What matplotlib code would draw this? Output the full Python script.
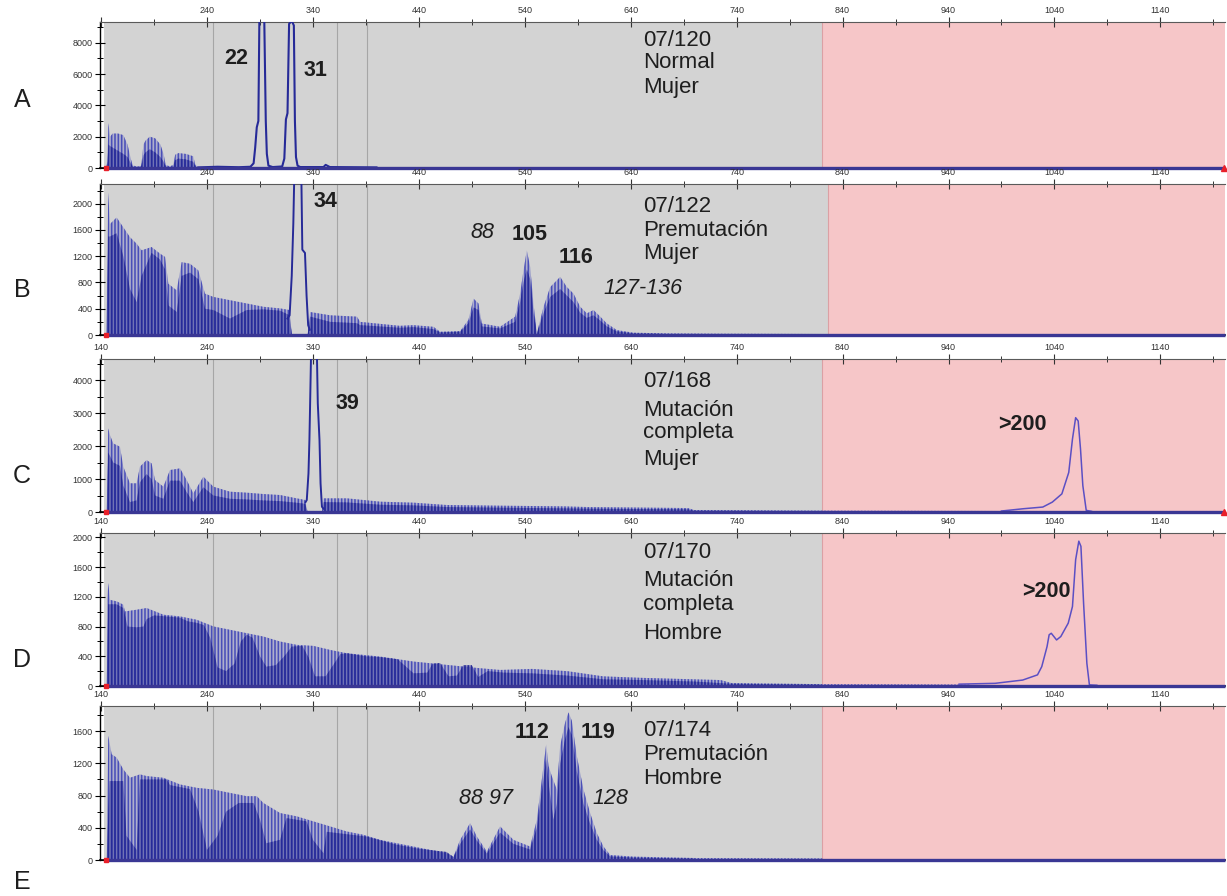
import matplotlib
matplotlib.use('Agg')
import matplotlib.pyplot as plt
from matplotlib.ticker import MultipleLocator

plt.rcParams['font.family'] = ['Liberation Sans', 'DejaVu Sans']
plt.rcParams['hatch.linewidth'] = 1.15

# ---------------- data (size in bp, signal in RFU) ----------------
x_major = [140, 240, 340, 440, 540, 640, 740, 840, 940, 1040, 1140]
x_minor = [190, 290, 390, 490, 590, 690, 790, 890, 990, 1090, 1190]
grid_lines = [246, 363, 391]

# Panel A - 07/120 Normal Mujer
A_x = [144, 146, 147, 148.5, 151, 156, 161, 165, 168, 170, 175, 178, 180, 182, 186, 191, 196, 199, 201, 205, 208, 210, 213, 220, 227, 229, 232]
A_hi = [0, 400, 2870, 2000, 2200, 2200, 2100, 1500, 600, 150, 100, 150, 1500, 1750, 2000, 1900, 1500, 900, 200, 100, 200, 850, 950, 900, 750, 200, 50]
A_lo = [0, 300, 1500, 1400, 1300, 1100, 900, 700, 300, 80, 50, 100, 800, 1000, 1200, 1000, 700, 400, 100, 50, 100, 500, 600, 550, 400, 100, 30]
A_pk_x = [232, 250, 270, 281, 284, 285.5, 287, 288.5, 289.5, 294, 295.5, 296.5, 298, 302, 311, 313, 314.5, 316, 317.5, 320, 322, 323, 324, 325.5, 328, 350, 352, 356, 400]
A_pk_y = [40, 80, 50, 80, 300, 1300, 2600, 3000, 9800, 9800, 3000, 900, 150, 60, 100, 600, 3100, 3500, 9200, 9400, 9100, 3000, 700, 150, 60, 60, 200, 60, 40]

# Panel B - 07/122 Premutacion Mujer
B_x = [145, 146.8, 148.4, 154.7, 161, 167.3, 173.6, 178.3, 187.7, 195.6, 200.4, 203.5, 211.4, 216.1, 224, 231.8, 238.1, 246, 261.7, 277.5, 293.2, 309, 318, 320, 335, 337.4, 356.3, 381.5, 384.6, 422, 435, 453.8, 460, 479, 486.8, 491.6, 496.3, 499.4, 516.7, 530.9, 535.6, 538.8, 541.9, 545.1, 548.2, 551.4, 557.7, 564, 573.4, 579.7, 586, 592.3, 598.6, 604.9, 611.2, 617.5, 626.9, 642.7, 674.2, 720, 826]
B_hi = [0, 2170, 1690, 1790, 1640, 1490, 1390, 1290, 1340, 1240, 1190, 780, 680, 1110, 1085, 985, 630, 580, 530, 480, 430, 405, 380, 0, 0, 350, 300, 280, 200, 140, 150, 125, 50, 60, 230, 555, 480, 175, 125, 280, 630, 985, 1290, 1035, 480, 25, 430, 730, 885, 730, 630, 430, 330, 380, 280, 175, 75, 35, 25, 20, 15]
B_lo = [0, 1500, 1500, 1550, 1200, 700, 500, 900, 1250, 1150, 1000, 450, 350, 900, 950, 850, 400, 380, 250, 380, 390, 370, 300, 0, 0, 280, 200, 180, 150, 110, 120, 90, 40, 50, 180, 420, 380, 130, 100, 200, 500, 800, 1000, 850, 350, 20, 330, 580, 700, 600, 500, 340, 260, 300, 220, 130, 55, 25, 15, 10, 10]
B_pk_x = [316, 318, 320, 321.5, 322.5, 329, 330, 332.5, 334, 335.5, 337]
B_pk_y = [250, 300, 900, 1700, 2500, 2500, 1300, 1250, 600, 150, 80]

# Panel C - 07/168 Mutacion completa Mujer
C_x = [145.3, 146.8, 148.4, 151.5, 157.8, 161, 167.3, 173.6, 176.7, 183, 187.7, 190.9, 198.8, 205.1, 214.5, 220.8, 227.1, 236.6, 246, 261.7, 277.5, 293.2, 309, 324.7, 332.6, 335, 348.5, 350, 372.1, 403.6, 435, 466.5, 516.8, 578, 600, 694, 700, 830, 1000]
C_hi = [0, 2535, 2333, 2080, 1980, 1374, 870, 870, 1374, 1575, 1475, 970, 768, 1273, 1323, 970, 566, 1070, 768, 616, 586, 545, 515, 414, 364, 0, 0, 414, 414, 313, 283, 212, 192, 170, 150, 120, 60, 40, 30]
C_lo = [0, 1800, 1700, 1500, 1400, 800, 300, 350, 900, 1150, 1000, 500, 400, 950, 950, 600, 300, 750, 500, 400, 380, 350, 330, 280, 250, 0, 0, 300, 290, 220, 200, 150, 130, 110, 100, 80, 40, 25, 20]
C_pk_x = [333, 334.2, 335.8, 336.7, 337.3, 338.3, 343.7, 344.6, 346.2, 347.2, 348.5, 350]
C_pk_y = [300, 364, 1170, 2200, 3190, 4900, 4900, 3290, 2180, 870, 160, 100]
C_big_x = [990, 1011, 1029, 1038, 1047, 1053.5, 1057, 1060, 1062.4, 1064.6, 1066.8, 1070, 1075]
C_big_y = [30, 100, 150, 300, 550, 1200, 2210, 2860, 2760, 1910, 800, 50, 20]

# Panel D - 07/170 Mutacion completa Hombre
D_hi_x = [145.3, 146, 146.8, 148.4, 154.7, 161, 162.6, 173.6, 183, 198.8, 214.5, 230.3, 246, 261.7, 277.5, 293.2, 309, 324.7, 340.5, 356.2, 372, 387.7, 403.5, 435, 466.4, 497.9, 516.8, 547, 580, 614, 650, 700, 725, 735, 820, 960]
D_hi = [0, 1160, 1387, 1160, 1140, 1095, 1004, 1027, 1050, 960, 937, 892, 802, 757, 711, 666, 599, 554, 540, 486, 441, 419, 396, 329, 284, 239, 216, 230, 200, 130, 110, 90, 80, 40, 25, 20]
D_lo_x = [145.3, 146.8, 154.7, 161, 165, 173.6, 180, 183, 190, 198.8, 214.5, 222, 230.3, 237, 243, 250, 258, 266, 272, 277.5, 283, 290, 296, 305, 313, 320, 330, 336, 342, 352, 360, 366, 372, 390, 403, 420, 435, 448, 453, 460, 468, 476, 482, 490, 496, 505, 520, 547, 580, 614, 650, 700, 735, 820]
D_lo = [0, 1100, 1100, 1050, 800, 790, 800, 900, 950, 940, 920, 870, 850, 820, 650, 250, 200, 300, 600, 690, 650, 400, 260, 280, 400, 530, 540, 380, 130, 130, 300, 430, 440, 400, 390, 360, 170, 180, 300, 310, 130, 140, 280, 280, 120, 200, 180, 170, 140, 90, 80, 60, 30, 18]
D_big_x = [950, 984, 1010, 1024, 1028, 1033, 1035, 1037, 1042, 1046, 1053, 1057, 1060, 1063, 1065, 1067.5, 1070.6, 1073, 1080]
D_big_y = [25, 36, 80, 150, 260, 530, 690, 710, 620, 666, 846, 1070, 1700, 1950, 1880, 1116, 306, 15, 10]

# Panel E - 07/174 Premutacion Hombre
E_hi_x = [145.3, 146.8, 150, 154.7, 161, 167.3, 176.7, 183, 198.8, 214.5, 230.3, 246, 261.7, 277.5, 287, 293.2, 309, 324.7, 340.5, 356.2, 372, 387.7, 403.5, 419.2, 435, 450.7, 466.4, 472.7, 479, 488.4, 494.7, 504.2, 516.7, 529.3, 545, 551.4, 556.1, 560.2, 562.4, 565.5, 570.2, 573.4, 578.1, 581.3, 584.4, 589.1, 595.4, 601.7, 608, 614.3, 620.6, 642.7, 700, 821]
E_hi = [0, 1542, 1313, 1271, 1125, 1021, 1063, 1042, 1021, 938, 896, 875, 833, 792, 792, 708, 583, 542, 479, 417, 354, 313, 250, 208, 167, 125, 83, 42, 250, 458, 292, 104, 417, 250, 167, 500, 1000, 1437, 1167, 1042, 875, 1417, 1708, 1833, 1729, 1292, 875, 583, 333, 167, 62, 42, 25, 20]
E_lo_x = [145.3, 148, 161, 164, 173.6, 176.7, 202, 205, 224, 232, 240, 250, 258, 270, 284, 290, 296, 309, 315, 334, 340, 350, 353, 391, 419, 440, 466, 472.7, 479, 488.4, 494.7, 504.2, 516.7, 529.3, 545, 551.4, 556.1, 560.2, 563, 567, 570.2, 573.4, 578.1, 581.3, 584.4, 589.1, 595.4, 601.7, 608, 614.3, 620.6, 642.7, 700]
E_lo = [0, 980, 980, 300, 125, 1000, 1000, 930, 880, 600, 125, 300, 600, 708, 708, 500, 208, 250, 520, 480, 250, 83, 350, 290, 190, 140, 100, 35, 200, 380, 240, 80, 340, 200, 130, 400, 850, 1250, 900, 500, 700, 1200, 1500, 1650, 1550, 1100, 700, 450, 250, 120, 45, 30, 18]

# ---------------- styling ----------------
W, H = 1227, 896
fig = plt.figure(figsize=(W / 100, H / 100), dpi=100)

GRAY_BG = '#d3d3d3'
PINK = '#f6c6c8'
DARK = '#262a98'
LIGHT = '#4a4fb8'
TXT = '#1e1e1e'
TICK = '#333333'
XMIN, XMAX = 139, 1201


def panel(top, bottom, ymax, yticks, pink_start, show140):
    ax = fig.add_axes([100 / W, 1 - bottom / H, 1125 / W, (bottom - top) / H])
    ax.set_xlim(XMIN, XMAX)
    ax.set_ylim(0, ymax)
    ax.set_facecolor('white')
    ax.axvspan(143, pink_start, color=GRAY_BG, lw=0, zorder=0)
    ax.axvspan(pink_start, XMAX, color=PINK, lw=0, zorder=0)
    ax.axvline(pink_start, color='#dba0a4', lw=0.8, zorder=0.5)
    for g in grid_lines:
        ax.axvline(g, color='#a6a6a6', lw=0.8, zorder=0.6)
    ax.xaxis.tick_top()
    ax.set_xticks(x_major)
    ax.set_xticklabels([str(v) if (v != 140 or show140) else '' for v in x_major])
    ax.set_xticks(x_minor, minor=True)
    ax.tick_params(axis='x', which='major', direction='inout', length=7, width=0.8,
                   color=TICK, labelsize=6.5, labelcolor=TICK, pad=1.5)
    ax.tick_params(axis='x', which='minor', direction='inout', length=5, width=0.7, color=TICK)
    ax.set_yticks(yticks)
    ax.yaxis.set_minor_locator(MultipleLocator((yticks[1] - yticks[0]) / 2))
    ax.tick_params(axis='y', which='major', direction='inout', length=7, width=0.8,
                   color='black', labelsize=6.5, labelcolor=TICK, pad=2)
    ax.tick_params(axis='y', which='minor', direction='inout', length=5, width=0.7, color='black')
    ax.spines['right'].set_visible(False)
    ax.spines['top'].set_color('#5a5a5a')
    ax.spines['top'].set_linewidth(0.8)
    ax.spines['left'].set_linewidth(1.0)
    ax.spines['bottom'].set_linewidth(1.2)
    return ax


def comb(ax, x, hi, lo_x, lo):
    ax.fill_between(x, 0, hi, facecolor=(0.36, 0.38, 0.76, 0.30), edgecolor=LIGHT,
                    hatch='|||||', linewidth=0, zorder=2)
    ax.fill_between(lo_x, 0, lo, facecolor=(0.15, 0.16, 0.60, 0.45), edgecolor=DARK,
                    hatch='|||||', linewidth=0, zorder=2.2)


def finish(ax, right_marker):
    ax.plot([143, XMAX], [0, 0], color='#3a3794', lw=2.4, clip_on=False, zorder=4,
            solid_capstyle='butt')
    ax.plot([144.5], [0], marker='s', ms=3.2, color='#e8202a', clip_on=False, zorder=5)
    if right_marker:
        ax.plot([XMAX - 1], [0], marker='^', ms=4, color='#e8202a', clip_on=False, zorder=5)


axA = panel(22, 168, 9320, [0, 2000, 4000, 6000, 8000], 821, False)
comb(axA, A_x, A_hi, A_x, A_lo)
axA.plot(A_pk_x, A_pk_y, color=DARK, lw=1.5, zorder=3)
finish(axA, True)

axB = panel(184, 335, 2300, [0, 400, 800, 1200, 1600, 2000], 826, False)
comb(axB, B_x, B_hi, B_x, B_lo)
axB.plot(B_pk_x, B_pk_y, color=DARK, lw=1.4, zorder=3)
finish(axB, False)

axC = panel(359, 512, 4640, [0, 1000, 2000, 3000, 4000], 821, True)
comb(axC, C_x, C_hi, C_x, C_lo)
axC.plot(C_pk_x, C_pk_y, color=DARK, lw=1.4, zorder=3)
axC.plot(C_big_x, C_big_y, color='#5b4fc4', lw=1.1, zorder=3)
finish(axC, True)

axD = panel(533, 686, 2060, [0, 400, 800, 1200, 1600, 2000], 821, True)
comb(axD, D_hi_x, D_hi, D_lo_x, D_lo)
axD.plot(D_big_x, D_big_y, color='#5b4fc4', lw=1.1, zorder=3)
finish(axD, False)

axE = panel(706, 860, 1912, [0, 400, 800, 1200, 1600], 821, True)
comb(axE, E_hi_x, E_hi, E_lo_x, E_lo)
finish(axE, False)


# ---------------- texts (pixel positions) ----------------
def ftext(x, y, s, size=16, ha='left', **kw):
    fig.text(x / W, 1 - y / H, s, ha=ha, va='center', fontsize=size, color=TXT, **kw)


for s, y in [('A', 100), ('B', 290), ('C', 476), ('D', 660), ('E', 882)]:
    ftext(22, y, s, size=18, ha='center')

info = [("07/120", 40), ("Normal", 63), ("Mujer", 87),
        ("07/122", 207), ("Premutación", 230), ("Mujer", 253),
        ("07/168", 381), ("Mutación", 410), ("completa", 432), ("Mujer", 460),
        ("07/170", 553), ("Mutación", 581), ("completa", 604), ("Hombre", 633),
        ("07/174", 730), ("Premutación", 754), ("Hombre", 778)]
for s, y in info:
    ftext(643, y, s, size=16)

bold_labels = [("22", 236, 58), ("31", 315, 70), ("34", 325, 201), ("105", 530, 235),
               ("116", 576, 257), ("39", 347, 403), (">200", 1022, 424), (">200", 1046, 591),
               ("112", 532, 733), ("119", 598, 733)]
for s, x, y in bold_labels:
    ftext(x, y, s, size=15.5, ha='center', fontweight='bold')

italic_labels = [("88", 482, 232), ("127-136", 643, 288), ("88 97", 486, 798), ("128", 610, 798)]
for s, x, y in italic_labels:
    ftext(x, y, s, size=15.5, ha='center', fontstyle='italic')

fig.savefig('out.png', dpi=100)
